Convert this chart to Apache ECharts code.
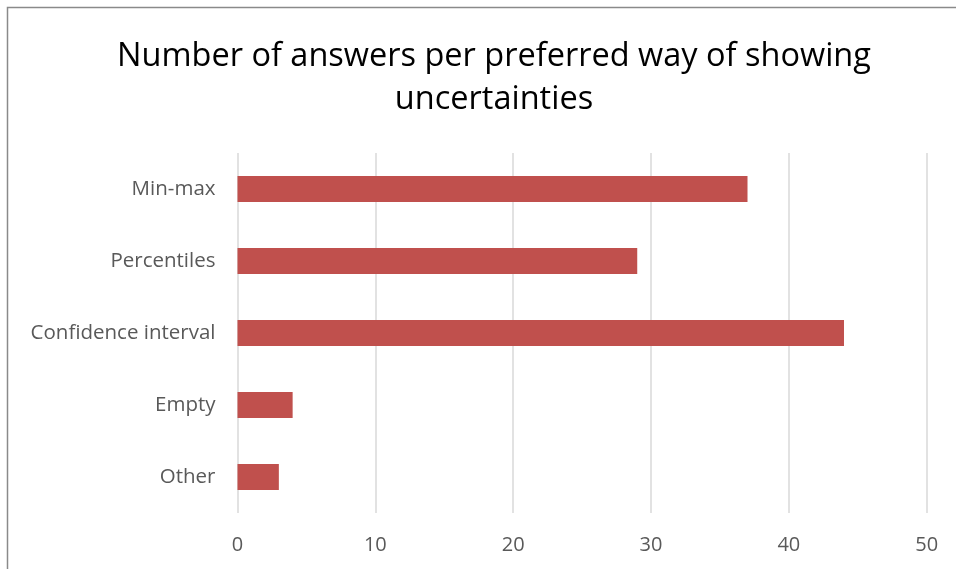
<!DOCTYPE html>
<html>
<head>
<meta charset="utf-8">
<script src="https://cdn.jsdelivr.net/npm/echarts@6/dist/echarts.min.js"></script>
<style>
  html, body { margin: 0; padding: 0; background: #fff; }
  #chart { width: 956px; height: 569px; }
</style>
</head>
<body>
<div id="chart"></div>
<script>
// Survey answers: preferred way of showing uncertainties
const categories = ['Min-max', 'Percentiles', 'Confidence interval', 'Empty', 'Other'];
const answers = [37, 29, 44, 4, 3];
const axisTicks = [0, 10, 20, 30, 40, 50];

const chart = echarts.init(document.getElementById('chart'));
const fontFamily = '"Open Sans", "Noto Sans", sans-serif';

chart.setOption({
  backgroundColor: '#ffffff',
  animation: false,
  title: {
    text: 'Number of answers per preferred way of showing\nuncertainties',
    left: 489,
    top: 30,
    textAlign: 'center',
    textStyle: {
      fontFamily: fontFamily,
      fontSize: 32.5,
      fontWeight: 'normal',
      color: '#000000',
      lineHeight: 43
    }
  },
  graphic: [{
    type: 'rect',
    shape: { x: 7.5, y: 7.5, width: 1000, height: 1000 },
    style: { fill: 'none', stroke: '#8a8a8a', lineWidth: 1.5 },
    silent: true
  }],
  grid: {
    left: 237.5,
    right: 29.3,
    top: 153,
    bottom: 56,
    containLabel: false
  },
  xAxis: {
    type: 'value',
    min: axisTicks[0],
    max: axisTicks[axisTicks.length - 1],
    interval: axisTicks[1] - axisTicks[0],
    axisLine: { show: false },
    axisTick: { show: false },
    splitLine: { show: true, lineStyle: { color: '#d9d9d9', width: 1.5 } },
    axisLabel: {
      margin: 22,
      fontFamily: fontFamily,
      fontSize: 20,
      color: '#595959'
    }
  },
  yAxis: {
    type: 'category',
    data: categories,
    inverse: true,
    axisLine: { show: false },
    axisTick: { show: false },
    splitLine: { show: false },
    axisLabel: {
      margin: 22,
      fontFamily: fontFamily,
      fontSize: 20.5,
      color: '#595959'
    }
  },
  series: [{
    type: 'bar',
    data: answers,
    barWidth: '36%',
    itemStyle: { color: '#c0504d' }
  }]
});
</script>
</body>
</html>
